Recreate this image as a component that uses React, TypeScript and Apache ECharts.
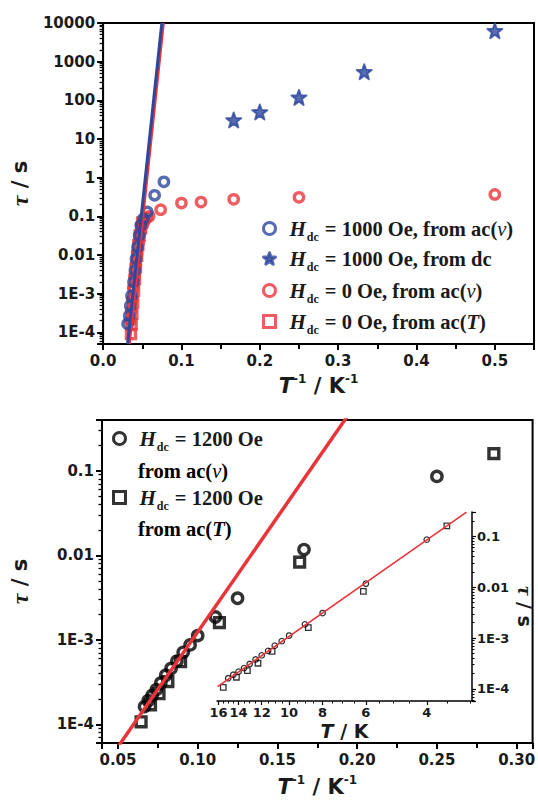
import React, { useEffect, useRef } from 'react';
import * as echarts from 'echarts';

// ---------- Top panel (x = T^-1 / K^-1, y = tau / s) ----------
const blueAcNuX = [0.0313, 0.0334, 0.0347, 0.0363, 0.0388, 0.0406, 0.0419, 0.0439, 0.046, 0.0482, 0.0515, 0.0565, 0.0658, 0.0776];
const blueAcNuTau = [1.66e-4, 2.7e-4, 4.9e-4, 8.9e-4, 2.0e-3, 4.0e-3, 8.0e-3, 0.016, 0.032, 0.059, 0.087, 0.13, 0.35, 0.78];
const blueDcX = [0.1667, 0.2, 0.25, 0.3333, 0.5];
const blueDcTau = [31, 50, 119, 550, 6300];
const redAcNuX = [0.0345, 0.0357, 0.037, 0.0385, 0.04, 0.0417, 0.0435, 0.0455, 0.0476, 0.05, 0.0526, 0.0556, 0.0588, 0.0735, 0.1, 0.125, 0.1667, 0.25, 0.5];
const redAcNuTau = [2.0e-4, 3.6e-4, 7e-4, 1.4e-3, 2.8e-3, 5.5e-3, 0.011, 0.021, 0.038, 0.058, 0.075, 0.09, 0.1, 0.149, 0.22, 0.234, 0.275, 0.31, 0.37];
const redAcTX = [0.0356, 0.0365, 0.0374, 0.0384, 0.0395, 0.0407, 0.042, 0.0435, 0.045, 0.0467, 0.0485, 0.05];
const redAcTTau = [9e-5, 1.6e-4, 3e-4, 6e-4, 1.2e-3, 2.4e-3, 4.8e-3, 9.5e-3, 0.018, 0.032, 0.05, 0.07];
const blueFitX = [0.0313, 0.075];
const blueFitTau = [5e-5, 1e4];
const redFitX = [0.0334, 0.0769];
const redFitTau = [5e-5, 1e4];

// ---------- Bottom panel (H_dc = 1200 Oe) ----------
const acNuT = [15, 14.5, 14, 13.5, 13, 12.5, 12, 11.5, 11, 10.5, 10, 9, 8, 6, 4];
const acNuTau = [1.62e-4, 1.9e-4, 2.19e-4, 2.57e-4, 3.09e-4, 3.8e-4, 4.57e-4, 5.6e-4, 7.1e-4, 8.7e-4, 1.12e-3, 1.86e-3, 3.1e-3, 0.0117, 0.086];
const acTT = [15.5, 14.2, 13.2, 12.3, 11.2, 8.8, 6.1, 3.5];
const acTTau = [1.07e-4, 1.7e-4, 2.3e-4, 3.2e-4, 5.5e-4, 1.6e-3, 8.3e-3, 0.16];
const mainFitX = [0.05, 0.2];
const mainFitTau = [5.4e-5, 0.65];
const insetFitT = [16.1, 3.07];
const insetFitTau = [1.11e-4, 0.299];

// ---------- Axis ticks ----------
const insetTLabels = [16, 14, 12, 10, 8, 6, 4];
const insetTMinor = [3, 3.5, 4.5, 5, 5.5, 6.5, 7, 7.5, 8.5, 9, 9.5, 10.5, 11, 11.5, 12.5, 13, 13.5, 14.5, 15, 15.5];

const BLUE = '#2E479E';
const RED = '#E8353A';
const SERIF = "'Liberation Serif', 'Times New Roman', serif";
const SANS = "'DejaVu Sans', sans-serif";

const zip = (xs: number[], ys: number[]) => xs.map((x, i) => [x, ys[i]]);

function logLabel(v: number) {
  const l = Math.log10(v);
  const k = Math.round(l);
  if (Math.abs(l - k) > 1e-6) return '';
  if (k >= 0) return String(Math.pow(10, k));
  if (k === -1) return '0.1';
  if (k === -2) return '0.01';
  return '1E' + k;
}
const stepLabel = (step: number, dec: number) => (v: number) => {
  const r = v / step;
  return Math.abs(r - Math.round(r)) < 1e-6 ? v.toFixed(dec) : '';
};

const tickLabel = { fontFamily: SANS, fontWeight: 'bold', fontSize: 15, color: '#1a1a1a' };
const axisLine = { show: true, lineStyle: { color: '#000', width: 2 } };
const axisTick = { show: true, inside: false, length: 6, lineStyle: { color: '#000', width: 2 } };

const nameRich = {
  t: { fontFamily: SANS, fontWeight: 'bold', fontStyle: 'italic', fontSize: 21, color: '#1a1a1a' },
  n: { fontFamily: SANS, fontWeight: 'bold', fontSize: 21, color: '#1a1a1a' },
  s: { fontFamily: SANS, fontWeight: 'bold', fontSize: 12, color: '#1a1a1a', verticalAlign: 'top', lineHeight: 26 },
  tau: { fontFamily: SERIF, fontWeight: 'bold', fontStyle: 'italic', fontSize: 24, color: '#1a1a1a' },
};
const insetRich = {
  t: { fontFamily: SANS, fontWeight: 'bold', fontStyle: 'italic', fontSize: 19, color: '#1a1a1a' },
  n: { fontFamily: SANS, fontWeight: 'bold', fontSize: 19, color: '#1a1a1a' },
  tau: { fontFamily: SERIF, fontWeight: 'bold', fontStyle: 'italic', fontSize: 21, color: '#1a1a1a' },
};

const legendRich = {
  h: { fontFamily: SERIF, fontStyle: 'italic', fontWeight: 'bold', fontSize: 21, lineHeight: 28, color: '#1a1a1a', padding: [0, 0, 0, 9] },
  sub: { fontFamily: SERIF, fontWeight: 'bold', fontSize: 12, lineHeight: 12, verticalAlign: 'bottom', color: '#1a1a1a', padding: [0, 6, 0, 1] },
  t: { fontFamily: SERIF, fontWeight: 'bold', fontSize: 20.5, lineHeight: 28, color: '#1a1a1a' },
  nu: { fontFamily: SERIF, fontStyle: 'italic', fontSize: 20.5, lineHeight: 28, color: '#1a1a1a' },
  it: { fontFamily: SERIF, fontStyle: 'italic', fontWeight: 'bold', fontSize: 20.5, lineHeight: 28, color: '#1a1a1a' },
};

const N1 = 'Hdc = 1000 Oe, from ac(ν)';
const N2 = 'Hdc = 1000 Oe, from dc';
const N3 = 'Hdc = 0 Oe, from ac(ν)';
const N4 = 'Hdc = 0 Oe, from ac(T)';
const B1 = 'Hdc = 1200 Oe from ac(ν)';
const B2 = 'Hdc = 1200 Oe from ac(T)';

const legendText: Record<string, string> = {
  [N1]: '{h|H}{sub|dc}{t|= 1000 Oe, from ac(}{nu|ν}{t|)}',
  [N2]: '{h|H}{sub|dc}{t|= 1000 Oe, from dc}',
  [N3]: '{h|H}{sub|dc}{t|= 0 Oe, from ac(}{nu|ν}{t|)}',
  [N4]: '{h|H}{sub|dc}{t|= 0 Oe, from ac(}{it|T}{t|)}',
  [B1]: '{h|H}{sub|dc}{t|= 1200 Oe}',
  [B2]: '{h|H}{sub|dc}{t|= 1200 Oe}',
};

const STAR = 'path://M50,4 L62,37 L97,38 L69,59 L79,94 L50,73 L21,94 L31,59 L3,38 L38,37 Z';

function mkLegend(name: string, left: number, top: number, size: number) {
  return {
    orient: 'vertical', left, top, padding: 0, itemWidth: size, itemHeight: size,
    selectedMode: false, data: [name],
    itemStyle: { borderWidth: 3 },
    formatter: (n: string) => legendText[n] || n,
    textStyle: { rich: legendRich },
  };
}

function buildOption() {
  const hollow = (color: string, bw: number) => ({ color: 'rgba(0,0,0,0)', borderColor: color, borderWidth: bw });
  return {
    animation: false,
    backgroundColor: '#fff',
    grid: [
      { left: 98, top: 23, width: 436, height: 321, show: true, borderColor: '#000', borderWidth: 2, backgroundColor: 'transparent' },
      { left: 98, top: 420, width: 437, height: 323, show: true, borderColor: '#000', borderWidth: 2, backgroundColor: 'transparent' },
      { left: 217, top: 512, width: 255, height: 189, show: false },
    ],
    legend: [
      mkLegend(N1, 262, 218, 12),
      mkLegend(N2, 262, 248, 12),
      mkLegend(N3, 262, 280, 12),
      mkLegend(N4, 262, 311, 12),
      mkLegend(B1, 112, 428, 12),
      mkLegend(B2, 112, 487, 12),
    ],
    graphic: [
      { type: 'text', left: 138, top: 460, style: { text: '{t|from ac(}{nu|ν}{t|)}', rich: legendRich } },
      { type: 'text', left: 138, top: 518, style: { text: '{t|from ac(}{it|T}{t|)}', rich: legendRich } },
    ],
    xAxis: [
      {
        type: 'value', gridIndex: 0, min: 0, max: 0.55,
        name: '{t|T}{s|-1}{n| / K}{s|-1}', nameLocation: 'middle', nameGap: 29,
        nameTextStyle: { rich: nameRich },
        axisLine, axisTick,
        minorTick: { show: true, splitNumber: 2, length: 5, lineStyle: { color: '#000', width: 2 } },
        splitLine: { show: false },
        axisLabel: { ...tickLabel, margin: 9, formatter: stepLabel(0.1, 1) },
      },
      {
        type: 'value', gridIndex: 1, min: 0.04, max: 0.31,
        name: '{t|T}{s|-1}{n| / K}{s|-1}', nameLocation: 'middle', nameGap: 31,
        nameTextStyle: { rich: nameRich },
        axisLine, axisTick,
        minorTick: { show: true, splitNumber: 2, length: 5, lineStyle: { color: '#000', width: 2 } },
        splitLine: { show: false },
        axisLabel: { ...tickLabel, margin: 9, formatter: stepLabel(0.05, 2) },
      },
      {
        type: 'log', gridIndex: 2, min: 2.96, max: 16.16, inverse: true, position: 'bottom',
        name: '{t|T}{n| / K}', nameLocation: 'middle', nameGap: 20,
        nameTextStyle: { rich: insetRich },
        axisLine: { show: true, onZero: false, lineStyle: { color: '#000', width: 1.5 } },
        axisTick: { show: true, length: 4, lineStyle: { color: '#000', width: 1.2 }, customValues: insetTLabels },
        minorTick: { show: false },
        splitLine: { show: false },
        axisLabel: { fontFamily: SANS, fontWeight: 'bold', fontSize: 13, color: '#1a1a1a', margin: 5, customValues: insetTLabels },
      },
      {
        type: 'log', gridIndex: 2, min: 2.96, max: 16.16, inverse: true, position: 'bottom',
        axisLine: { show: false, onZero: false },
        axisTick: { show: true, length: 2.5, lineStyle: { color: '#000', width: 1 }, customValues: insetTMinor },
        axisLabel: { show: false },
        splitLine: { show: false },
      },
    ],
    yAxis: [
      {
        type: 'log', gridIndex: 0, min: 5e-5, max: 1e4,
        name: '{tau|τ}{n| / s}', nameLocation: 'middle', nameGap: 70, nameRotate: 90,
        nameTextStyle: { rich: nameRich },
        axisLine, axisTick,
        minorTick: { show: true, splitNumber: 9, length: 3.5, lineStyle: { color: '#000', width: 1.3 } },
        splitLine: { show: false },
        axisLabel: { ...tickLabel, margin: 8, formatter: logLabel },
      },
      {
        type: 'log', gridIndex: 1, min: 6e-5, max: 0.4,
        name: '{tau|τ}{n| / s}', nameLocation: 'middle', nameGap: 70, nameRotate: 90,
        nameTextStyle: { rich: nameRich },
        axisLine, axisTick,
        minorTick: { show: true, splitNumber: 9, length: 3.5, lineStyle: { color: '#000', width: 1.3 } },
        splitLine: { show: false },
        axisLabel: { ...tickLabel, margin: 8, formatter: logLabel },
      },
      {
        type: 'log', gridIndex: 2, min: 5.8e-5, max: 0.3, position: 'right',
        name: '{tau|τ}{n| / s}', nameLocation: 'middle', nameGap: 42, nameRotate: -90,
        nameTextStyle: { rich: insetRich },
        axisLine: { show: true, onZero: false, lineStyle: { color: '#000', width: 1.5 } },
        axisTick: { show: true, length: 4, lineStyle: { color: '#000', width: 1.2 } },
        minorTick: { show: true, splitNumber: 9, length: 2.5, lineStyle: { color: '#000', width: 1 } },
        splitLine: { show: false },
        axisLabel: { fontFamily: SANS, fontWeight: 'bold', fontSize: 13, color: '#1a1a1a', margin: 5, formatter: logLabel },
      },
    ],
    series: [
      // top panel
      { name: N4, type: 'scatter', xAxisIndex: 0, yAxisIndex: 0, symbol: 'rect', symbolSize: 9, itemStyle: hollow(RED, 3.4), data: zip(redAcTX, redAcTTau) },
      { name: N3, type: 'scatter', xAxisIndex: 0, yAxisIndex: 0, symbol: 'circle', symbolSize: 9.3, itemStyle: hollow(RED, 3.4), data: zip(redAcNuX, redAcNuTau) },
      { name: 'fit0', type: 'line', xAxisIndex: 0, yAxisIndex: 0, symbol: 'none', clip: true, lineStyle: { color: RED, width: 3 }, data: zip(redFitX, redFitTau) },
      { name: N1, type: 'scatter', xAxisIndex: 0, yAxisIndex: 0, symbol: 'circle', symbolSize: 9.3, itemStyle: hollow(BLUE, 3.4), data: zip(blueAcNuX, blueAcNuTau) },
      { name: 'fit1000', type: 'line', xAxisIndex: 0, yAxisIndex: 0, symbol: 'none', clip: true, lineStyle: { color: BLUE, width: 3 }, data: zip(blueFitX, blueFitTau) },
      { name: N2, type: 'scatter', xAxisIndex: 0, yAxisIndex: 0, symbol: STAR, symbolSize: 15, itemStyle: { color: BLUE, borderColor: BLUE, borderWidth: 2, borderJoin: 'round' }, data: zip(blueDcX, blueDcTau) },
      // bottom panel
      { name: 'fit1200', type: 'line', xAxisIndex: 1, yAxisIndex: 1, symbol: 'none', clip: true, lineStyle: { color: RED, width: 3.5 }, data: zip(mainFitX, mainFitTau) },
      { name: B1, type: 'scatter', xAxisIndex: 1, yAxisIndex: 1, symbol: 'circle', symbolSize: 10.3, itemStyle: hollow('#000', 3.4), data: zip(acNuT.map((t) => 1 / t), acNuTau) },
      { name: B2, type: 'scatter', xAxisIndex: 1, yAxisIndex: 1, symbol: 'rect', symbolSize: 9.8, itemStyle: hollow('#000', 3.4), data: zip(acTT.map((t) => 1 / t), acTTau) },
      // inset
      { name: 'insetFit', type: 'line', xAxisIndex: 2, yAxisIndex: 2, symbol: 'none', clip: true, lineStyle: { color: RED, width: 1.6 }, data: zip(insetFitT, insetFitTau) },
      { name: 'insetNu', type: 'scatter', xAxisIndex: 2, yAxisIndex: 2, symbol: 'circle', symbolSize: 5.5, itemStyle: hollow('#000', 1.3), data: zip(acNuT, acNuTau) },
      { name: 'insetT', type: 'scatter', xAxisIndex: 2, yAxisIndex: 2, symbol: 'rect', symbolSize: 5.5, itemStyle: hollow('#000', 1.3), data: zip(acTT, acTTau) },
    ],
  };
}

export default function App() {
  const ref = useRef<HTMLDivElement>(null);
  useEffect(() => {
    document.body.style.margin = '0';
    const chart = echarts.init(ref.current!, undefined, { renderer: 'svg' });
    chart.setOption(buildOption() as any);
    return () => chart.dispose();
  }, []);
  return <div ref={ref} style={{ width: 538, height: 801 }} />;
}
